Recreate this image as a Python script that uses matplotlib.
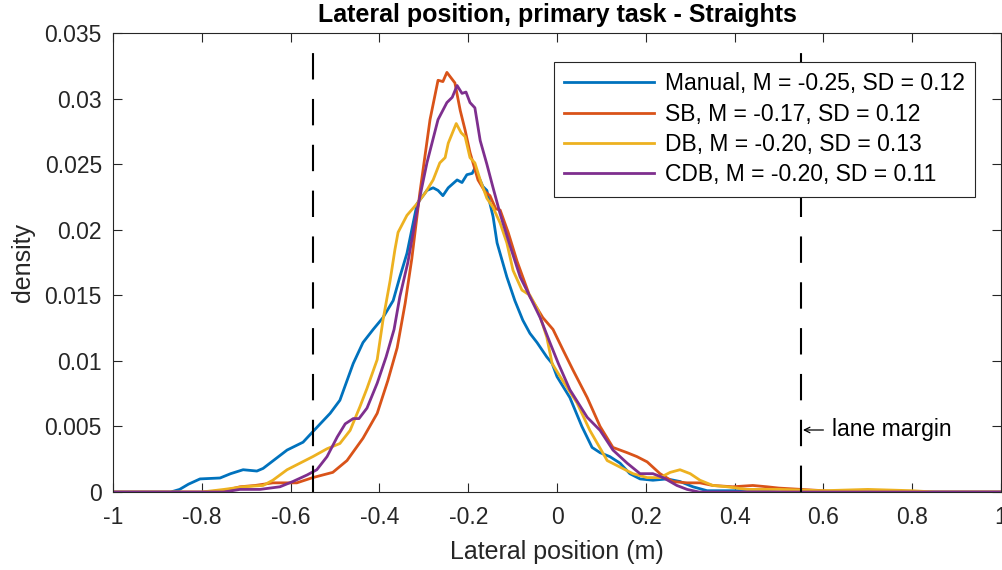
import matplotlib
matplotlib.use("Agg")
import matplotlib.pyplot as plt
import numpy as np

plt.rcParams['font.family'] = ['Liberation Sans', 'DejaVu Sans']
plt.rcParams['axes.unicode_minus'] = False
plt.rcParams['lines.scale_dashes'] = False

# traced densities (lateral position in m, density)
manual_x = [-1.0, -0.87, -0.85, -0.83, -0.804, -0.759, -0.735, -0.707, -0.676, -0.662, -0.635,
            -0.608, -0.572, -0.55, -0.511, -0.489, -0.459, -0.437, -0.414, -0.392, -0.369, -0.354,
            -0.338, -0.315, -0.293, -0.279, -0.268, -0.257, -0.245, -0.225, -0.214, -0.203, -0.191,
            -0.185, -0.167, -0.158, -0.144, -0.135, -0.113, -0.095, -0.077, -0.061, -0.045, -0.023,
            -0.011, 0.0, 0.029, 0.056, 0.079, 0.097, 0.119, 0.142, 0.164, 0.187, 0.216, 0.248,
            0.277, 0.306, 0.338, 0.37, 0.45, 0.5, 1.0]
manual_y = [0, 0, 0.0002, 0.0006, 0.001, 0.00107, 0.0014, 0.0017, 0.0016, 0.0018, 0.0025,
            0.0032, 0.0038, 0.0046, 0.006, 0.007, 0.0098, 0.0114, 0.0124, 0.0133, 0.0146, 0.0164,
            0.0182, 0.022, 0.023, 0.0232, 0.023, 0.0226, 0.0232, 0.0238, 0.0236, 0.0242, 0.0243,
            0.0247, 0.0233, 0.023, 0.021, 0.019, 0.0164, 0.0146, 0.0131, 0.0121, 0.0114, 0.0103,
            0.0098, 0.0088, 0.0072, 0.005, 0.0034, 0.003, 0.0027, 0.0022, 0.0014, 0.001, 0.0009, 0.001,
            0.0008, 0.0004, 0.0001, 0.0001, 0.0001, 0, 0]

sb_x = [-1.0, -0.8, -0.75, -0.714, -0.68, -0.64, -0.586, -0.55, -0.505, -0.473, -0.437, -0.405,
        -0.381, -0.36, -0.342, -0.327, -0.309, -0.286, -0.268, -0.257, -0.248, -0.23, -0.218,
        -0.207, -0.196, -0.178, -0.162, -0.151, -0.138, -0.128, -0.11, -0.09, -0.061, -0.032,
        -0.009, 0.014, 0.036, 0.068, 0.097, 0.126, 0.158, 0.18, 0.203, 0.232, 0.261, 0.293, 0.322,
        0.351, 0.396, 0.441, 0.473, 0.5, 0.55, 0.6, 0.65, 1.0]
sb_y = [0, 0, 0.0001, 0.0004, 0.0005, 0.0007, 0.0007, 0.0011, 0.0015, 0.0024, 0.0041, 0.006,
        0.0085, 0.011, 0.0144, 0.0178, 0.0228, 0.0284, 0.0314, 0.0313, 0.032, 0.0312, 0.0291,
        0.0276, 0.0259, 0.0238, 0.0229, 0.0226, 0.0216, 0.0215, 0.0198, 0.0176, 0.0149, 0.0133,
        0.0124, 0.0108, 0.0093, 0.0072, 0.005, 0.0034, 0.003, 0.0027, 0.0023, 0.0014, 0.0008, 0.0007,
        0.0007, 0.0005, 0.0004, 0.0005, 0.0004, 0.0003, 0.0002, 0.0001, 0, 0]

db_x = [-1.0, -0.8, -0.75, -0.707, -0.662, -0.64, -0.608, -0.579, -0.55, -0.518, -0.489, -0.466,
        -0.444, -0.428, -0.405, -0.392, -0.376, -0.365, -0.358, -0.338, -0.315, -0.297, -0.279,
        -0.264, -0.252, -0.245, -0.227, -0.216, -0.207, -0.196, -0.185, -0.173, -0.158, -0.144,
        -0.128, -0.113, -0.099, -0.079, -0.061, -0.043, -0.023, -0.011, 0.007, 0.045, 0.074, 0.113,
        0.142, 0.171, 0.203, 0.232, 0.255, 0.277, 0.3, 0.322, 0.351, 0.383, 0.428, 0.5, 0.6, 0.7,
        0.8, 0.85, 1.0]
db_y = [0, 0, 0.0002, 0.0004, 0.0005, 0.0009, 0.0017, 0.0022, 0.0027, 0.0033, 0.0037, 0.0047,
        0.0065, 0.0079, 0.0101, 0.0131, 0.0161, 0.0185, 0.0198, 0.0211, 0.022, 0.0228, 0.0238,
        0.0251, 0.0255, 0.0266, 0.0281, 0.0274, 0.0271, 0.0255, 0.0251, 0.0238, 0.0224, 0.0217,
        0.0205, 0.019, 0.0169, 0.0154, 0.015, 0.0139, 0.0118, 0.0098, 0.0088, 0.0068, 0.0047, 0.0024,
        0.0019, 0.0014, 0.0011, 0.0011, 0.0015, 0.0017, 0.0014, 0.0009, 0.0005, 0.0004, 0.0002,
        0.0002, 0.0001, 0.0002, 0.0001, 0, 0]

cdb_x = [-1.0, -0.75, -0.714, -0.669, -0.624, -0.595, -0.563, -0.541, -0.518, -0.495, -0.477,
         -0.459, -0.446, -0.428, -0.405, -0.385, -0.367, -0.354, -0.336, -0.315, -0.293, -0.268,
         -0.248, -0.236, -0.225, -0.214, -0.205, -0.196, -0.185, -0.173, -0.158, -0.144, -0.128,
         -0.106, -0.083, -0.061, -0.038, -0.016, 0.003, 0.029, 0.068, 0.097, 0.126, 0.158, 0.187,
         0.216, 0.239, 0.27, 0.293, 0.32, 1.0]
cdb_y = [0, 0, 0.0002, 0.0002, 0.0004, 0.0008, 0.0013, 0.0017, 0.0027, 0.0042, 0.0052,
         0.0056, 0.0056, 0.0064, 0.0083, 0.0103, 0.0124, 0.0149, 0.0175, 0.0215, 0.0251, 0.0284,
         0.0297, 0.0301, 0.031, 0.0304, 0.0305, 0.0297, 0.0293, 0.0268, 0.025, 0.0232, 0.0212,
         0.0188, 0.0164, 0.0149, 0.0133, 0.0114, 0.0098, 0.0078, 0.0057, 0.0047, 0.0032, 0.0022, 0.0014,
         0.0014, 0.0011, 0.0005, 0.0002, 0, 0]

labels = ['Manual, M = -0.25, SD = 0.12', 'SB, M = -0.17, SD = 0.12',
          'DB, M = -0.20, SD = 0.13', 'CDB, M = -0.20, SD = 0.11']
colors = ['#0072BD', '#D95319', '#EDB120', '#7E2F8E']
lane_margin = 0.55
note_y = 0.00473

xticks = np.arange(-1, 1.01, 0.2)
xtick_labels = ['-1', '-0.8', '-0.6', '-0.4', '-0.2', '0', '0.2', '0.4', '0.6', '0.8', '1']
yticks = np.arange(0, 0.0351, 0.005)
ytick_labels = ['0', '0.005', '0.01', '0.015', '0.02', '0.025', '0.03', '0.035']

fig = plt.figure(figsize=(10.02, 5.7), dpi=100)
ax = fig.add_axes([0.1128, 0.1368, 0.8862, 0.8052])

series = [(manual_x, manual_y), (sb_x, sb_y), (db_x, db_y), (cdb_x, cdb_y)]
for (xs, ys), lab, c in zip(series, labels, colors):
    ax.plot(xs, ys, color=c, lw=2.0, label=lab)

for xm in (-lane_margin, lane_margin):
    ax.plot([xm, xm], [0, 0.035], color='black', lw=1.5, dashes=(19, 14))

# "<- lane margin" note next to the right margin line
ax.annotate('', xy=(lane_margin + 0.004, note_y), xytext=(lane_margin + 0.05, note_y),
            arrowprops=dict(arrowstyle='->', lw=0.9, color='black', shrinkA=0, shrinkB=0))
ax.text(lane_margin + 0.07, note_y, 'lane margin', fontsize=16.5, va='center', ha='left')

ax.set_xlim(-1, 1)
ax.set_ylim(0, 0.035)
ax.set_xticks(xticks)
ax.set_xticklabels(xtick_labels)
ax.set_yticks(yticks)
ax.set_yticklabels(ytick_labels)
ax.tick_params(direction='in', top=True, right=True, length=6.5, width=0.8,
               colors='#262626', labelsize=16.5)
ax.tick_params(axis='x', pad=10)
ax.tick_params(axis='y', pad=8)
for sp in ax.spines.values():
    sp.set_color('#262626')
    sp.set_linewidth(0.8)

ax.set_xlabel('Lateral position (m)', fontsize=18, color='#262626', labelpad=8)
ax.set_ylabel('density', fontsize=18, color='#262626', labelpad=7)
ax.set_title('Lateral position, primary task - Straights', fontsize=18,
             fontweight='bold', pad=8)

leg = ax.legend(loc='upper right', bbox_to_anchor=(0.971, 0.937), borderaxespad=0,
                fontsize=16.5, handlelength=3.9, fancybox=False, framealpha=1,
                edgecolor='#262626', labelspacing=0.32, borderpad=0.45, handletextpad=0.5)
leg.get_frame().set_linewidth(0.8)

fig.savefig('out.png', dpi=100)
